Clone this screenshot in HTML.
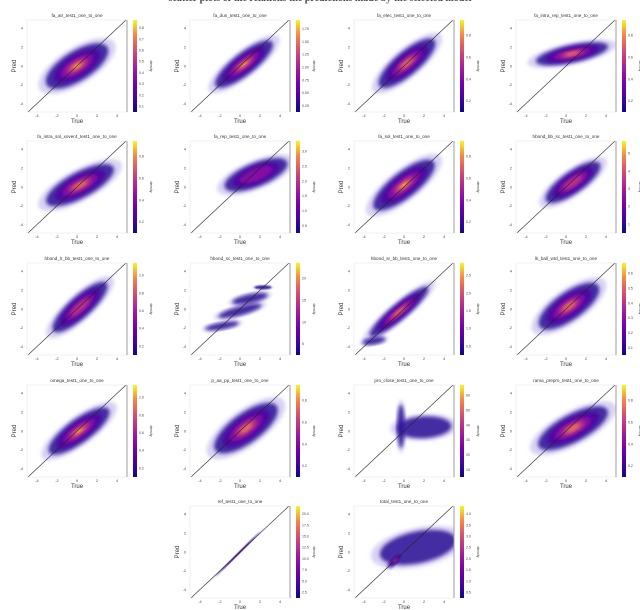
<!DOCTYPE html>
<html><head><meta charset="utf-8">
<style>
html,body{margin:0;padding:0;background:#fff;}
svg{display:block;font-family:"Liberation Sans",sans-serif;}
</style></head>
<body>
<svg id="fig" width="640" height="610" viewBox="0 0 640 610" xmlns="http://www.w3.org/2000/svg">
<defs>
<linearGradient id="plasma" x1="0" y1="1" x2="0" y2="0">
<stop offset="0" stop-color="#0d0887"/><stop offset="0.15" stop-color="#47039f"/>
<stop offset="0.3" stop-color="#7301a8"/><stop offset="0.45" stop-color="#9c179e"/>
<stop offset="0.6" stop-color="#c23c81"/><stop offset="0.72" stop-color="#dd5e66"/>
<stop offset="0.85" stop-color="#f68d45"/><stop offset="1" stop-color="#f0f921"/>
</linearGradient>
<filter id="soft" x="-20%" y="-20%" width="140%" height="140%"><feGaussianBlur stdDeviation="1.8"/></filter>
<filter id="soft2" x="-20%" y="-20%" width="140%" height="140%"><feGaussianBlur stdDeviation="0.8"/></filter>
</defs>
<text x="320" y="1" text-anchor="middle" font-family="Liberation Serif,serif" font-weight="bold" font-size="10" fill="#444">scatter plots of the relations the predictions made by the selected model</text>
<g id="panels"></g>
</svg>
<script>
// panel data
const panelTitles = ["fa_atr_test1_one_to_one","fa_dun_test1_one_to_one","fa_elec_test1_one_to_one","fa_intra_rep_test1_one_to_one",
"fa_intra_sol_xover4_test1_one_to_one","fa_rep_test1_one_to_one","fa_sol_test1_one_to_one","hbond_bb_sc_test1_one_to_one",
"hbond_lr_bb_test1_one_to_one","hbond_sc_test1_one_to_one","hbond_sr_bb_test1_one_to_one","lk_ball_wtd_test1_one_to_one",
"omega_test1_one_to_one","p_aa_pp_test1_one_to_one","pro_close_test1_one_to_one","rama_prepro_test1_one_to_one",
"ref_test1_one_to_one","total_test1_one_to_one"];
const panelRow = [0,0,0,0,1,1,1,1,2,2,2,2,3,3,3,3,4,4];
const panelCol = [0,1,2,3,0,1,2,3,0,1,2,3,0,1,2,3,1,2];
const cbarTicks = [
["0.1","0.2","0.3","0.4","0.5","0.6","0.7","0.8"],["0.25","0.50","0.75","1.00","1.25","1.50","1.75"],
["0.2","0.4","0.6","0.8"],["0.2","0.4","0.6","0.8"],["0.2","0.4","0.6","0.8"],["0.5","1.0","1.5","2.0","2.5","3.0"],
["0.2","0.4","0.6","0.8"],["1","2","3","4","5"],["0.2","0.4","0.6","0.8","1.0"],["5","10","15","20"],
["0.5","1.0","1.5","2.0","2.5"],["0.1","0.2","0.3","0.4","0.5","0.6"],["0.2","0.4","0.6","0.8","1.0"],["0.2","0.4","0.6","0.8"],
["10","20","30","40","50","60"],["0.2","0.4","0.6","0.8"],["2.5","5.0","7.5","10.0","12.5","15.0","17.5","20.0"],
["0.5","1.0","1.5","2.0","2.5","3.0","3.5","4.0"]];
const xTicks = [-4,-2,0,2,4];
const yTicks = [-4,-2,0,2,4];
// density blobs (data units): panel, centre x, centre y, semi-axes, angle (deg), peak intensity 0..1
const blobPanel = [0,1,2,3,4,5,6,7,8,9,9,9,9,10,10,11,12,13,14,14,15,16,17,17];
const blobX     = [0,0.4,0.3,0.6,0.3,1.6,0,0.7,0.3,-1.8,0,1,2.3,-0.5,-3,0.3,0.2,0.6,2,-0.3,0.7,-0.2,1.4,-0.9];
const blobY     = [0,0.2,0.3,1.3,0.2,1.3,0.2,0.5,0.2,-1.8,-0.2,1.1,2.3,-0.3,-3.4,0.3,0,0.3,0.4,0.5,0.3,-0.2,0.5,-0.9];
const blobRx    = [3.4,3.4,3.4,3.5,3.6,3.2,3.6,3.1,3.4,1.6,2.1,1.7,0.8,3.6,1.1,3.4,3.5,3.6,2.6,0.35,3.7,3.0,3.7,0.9];
const blobRy    = [1.5,1.1,1.2,0.9,1.3,1.2,1.3,1.1,1.1,0.35,0.45,0.45,0.2,0.8,0.35,1.4,1.2,1.5,1.1,2.2,1.4,0.07,1.6,0.3];
const blobAng   = [32,38,40,12,28,22,38,35,42,10,15,12,0,40,10,35,36,36,3,0,28,45,12,45];
const blobPeak  = [1,1,0.9,0.9,0.9,0.6,1,0.7,0.7,0.35,0.35,0.35,0.3,0.8,0.3,0.8,1,0.9,0.3,0.3,0.9,0.6,0.3,1];

const colLeft=[27,190,354,516], rowTop=[20,141,263,385,506], W=100, H=92;
const XMIN=-5, XMAX=5, YMIN=-4.9, YMAX=4.9;
const layerScale=[1.3,1.05,0.78,0.55,0.36,0.21,0.09];
const layerColor=["#7d6ad6","#2a0b95","#4f02a2","#8e0ea4","#c03a83","#ec7853","#f7e225"];
const layerOp=[0.3,0.85,0.85,0.85,0.85,0.9,0.95];
const NS="http://www.w3.org/2000/svg";
const root=document.getElementById('panels');
function mk(tag,attrs,parent){const e=document.createElementNS(NS,tag);for(const k in attrs)e.setAttribute(k,attrs[k]);(parent||root).appendChild(e);return e;}

panelTitles.forEach((title,i)=>{
  const L=colLeft[panelCol[i]], T=rowTop[panelRow[i]];
  const sx=v=>L+(v-XMIN)/(XMAX-XMIN)*W;
  const sy=v=>T+H-(v-YMIN)/(YMAX-YMIN)*H;
  const g=mk('g',{});
  
  
  const cp=mk('clipPath',{id:'cp'+i},g);
  mk('rect',{x:L,y:T,width:W,height:H},cp);
  const t=mk('text',{x:L+W/2,y:T-3,'text-anchor':'middle','font-size':'4.6',fill:'#333'},g);
  t.textContent=title;
  
  
  const plot=mk('g',{'clip-path':'url(#cp'+i+')'},g);
  
  
  for(let b=0;b<blobPanel.length;b++){
    if(blobPanel[b]!==i) continue;
    const cx=sx(blobX[b]), cy=sy(blobY[b]);
    const rx=blobRx[b]*W/(XMAX-XMIN), ry=blobRy[b]*H/(YMAX-YMIN);
    const nL=Math.max(2,Math.round(blobPeak[b]*layerScale.length));
    for(let l=0;l<nL;l++){
      const e=mk('ellipse',{cx:cx,cy:cy,rx:rx*layerScale[l],ry:Math.max(0.6,ry*layerScale[l]),fill:layerColor[l],'fill-opacity':layerOp[l],
        transform:'rotate('+(-blobAng[b])+' '+cx+' '+cy+')',filter:(ry<2?'url(#soft2)':'url(#soft)')},plot);
      
      
    }
  }
  const ln=mk('line',{x1:sx(XMIN),y1:sy(XMIN),x2:sx(XMAX),y2:sy(XMAX),stroke:'#222','stroke-width':'0.6'},plot);
  
  
  const fr=mk('rect',{x:L,y:T,width:W,height:H,fill:'none',stroke:'#e4e4e4','stroke-width':'0.5'},g);
  
  
  mk('line',{x1:L+W,y1:T,x2:L+W,y2:T+H,stroke:'#888','stroke-width':'0.8'},g);
  xTicks.forEach(v=>{const tx=mk('text',{x:sx(v),y:T+H+5,'text-anchor':'middle','font-size':'3.8',fill:'#444'},g);tx.textContent=v;
    
    });
  yTicks.forEach(v=>{const ty=mk('text',{x:L-4,y:sy(v)+1.3,'text-anchor':'end','font-size':'3.8',fill:'#444'},g);ty.textContent=v;
    
    });
  const xl=mk('text',{x:L+W/2,y:T+H+11,'text-anchor':'middle','font-size':'6',fill:'#333'},g);xl.textContent='True';
  
  
  const yl=mk('text',{x:L-11,y:T+H/2,'text-anchor':'middle','font-size':'6',fill:'#333',transform:'rotate(-90 '+(L-11)+' '+(T+H/2)+')'},g);yl.textContent='Pred';
  
  
  const cbx=L+W+6;
  const cb=mk('rect',{x:cbx,y:T,width:4,height:H,fill:'url(#plasma)'},g);
  
  
  const ticks=cbarTicks[i], n=ticks.length;
  ticks.forEach((s,k)=>{const yy=T+H-(k+0.5)/(n+0.2)*H;
    const ct=mk('text',{x:cbx+6,y:yy+1.2,'font-size':'3.5',fill:'#444'},g);ct.textContent=s;
    
    });
  const dl=mk('text',{x:cbx+17,y:T+H/2,'text-anchor':'middle','font-size':'3.5',fill:'#444',transform:'rotate(90 '+(cbx+17)+' '+(T+H/2)+')'},g);dl.textContent='density';
  
  
});
</script>
</body></html>
